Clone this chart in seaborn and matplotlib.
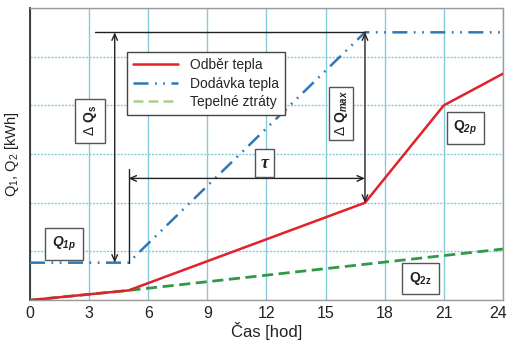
import matplotlib
matplotlib.use("Agg")
import matplotlib.pyplot as plt
import matplotlib.transforms as mtransforms
import seaborn as sns
from matplotlib.lines import Line2D

# Heat balance over one day
demand_hours = [0, 5, 17, 21, 24]
demand_kwh = [0.0, 0.2, 2.0, 4.0, 4.65]          # Odběr tepla (Q2)

supply_hours = [0, 5, 17, 24]
supply_kwh = [0.77, 0.77, 5.5, 5.5]               # Dodávka tepla (Q1)

loss_hours = [0, 5, 24]
loss_kwh = [0.0, 0.2, 1.05]                       # Tepelné ztráty

x_ticks = [0, 3, 6, 9, 12, 15, 18, 21, 24]
series_labels = ["Odběr tepla", "Dodávka tepla", "Tepelné ztráty"]

sns.set_style("white")
fam = ["Liberation Sans Narrow", "Liberation Sans", "DejaVu Sans"]
plt.rcParams["font.family"] = fam
plt.rcParams["mathtext.fontset"] = "custom"
plt.rcParams["mathtext.rm"] = "Liberation Sans"
plt.rcParams["mathtext.it"] = "Liberation Sans:italic"
plt.rcParams["mathtext.bf"] = "Liberation Sans:bold"
plt.rcParams["mathtext.bfit"] = "Liberation Sans:bold:italic"

RED = "#e0222a"
BLUE = "#2f78b4"
GREEN = "#2e9a48"
GREEN_LEG = "#a9d08e"
GRID = "#86cbdc"
INK = "#222222"

fig = plt.figure(figsize=(5.08, 3.47), dpi=100)
ax = fig.add_axes([0.059, 0.135, 0.931, 0.842])

sns.lineplot(x=loss_hours, y=loss_kwh, ax=ax, color=GREEN, lw=2.0,
             linestyle=(0, (4, 2)), zorder=3)
sns.lineplot(x=supply_hours, y=supply_kwh, ax=ax, color=BLUE, lw=1.8,
             linestyle=(0, (6, 2.6, 0.7, 2.6, 0.7, 2.6)), zorder=3)
sns.lineplot(x=demand_hours, y=demand_kwh, ax=ax, color=RED, lw=1.8, zorder=4)

ax.set_xlim(0, 24)
ax.set_ylim(0, 6)
ax.set_xticks(x_ticks)
ax.set_yticks(range(0, 7))
ax.set_yticklabels([])
ax.tick_params(axis="x", length=0, pad=4, labelsize=11.5, colors=INK)
ax.tick_params(axis="y", length=0)
ax.xaxis.grid(True, color=GRID, lw=1.0, ls="-")
ax.yaxis.grid(True, color=GRID, lw=1.0, ls=(0, (1.5, 1)))
ax.set_axisbelow(True)
for side, sp in ax.spines.items():
    sp.set_color("#9a9a9a")
    sp.set_linewidth(1.0)
ax.spines["left"].set_color("#333333")
ax.spines["left"].set_linewidth(1.3)

# keep the last hour label inside the canvas
last = ax.get_xticklabels()[-1]
last.set_transform(last.get_transform() +
                   mtransforms.ScaledTranslation(-5 / 100, 0, fig.dpi_scale_trans))

ax.set_xlabel("Čas [hod]", fontsize=12, color=INK, labelpad=1)
ax.set_ylabel(r"$\mathregular{Q_{1}}$, $\mathregular{Q_{2}}$ [kWh]", fontsize=10.5,
              color=INK, labelpad=3)

# Derived reference levels
q_base = supply_kwh[0]
q_top = max(supply_kwh)
t_start = supply_hours[1]
t_end = supply_hours[2]
q_knee = demand_kwh[demand_hours.index(t_end)]

arrow_kw = dict(arrowstyle="<->,head_length=0.45,head_width=0.2", color=INK,
                lw=1.0, shrinkA=0, shrinkB=0)
line_kw = dict(color=INK, lw=1.0, zorder=5)

# top reference line at maximum supply
ax.plot([3.3, t_end], [q_top, q_top], **line_kw)
# helper line at start of charging
ax.plot([t_start, t_start], [q_base, 2.7], **line_kw)
# ΔQs
ax.annotate("", xy=(4.3, q_top), xytext=(4.3, q_base), arrowprops=arrow_kw, zorder=5)
# τ
ax.annotate("", xy=(t_start, 2.5), xytext=(t_end, 2.5), arrowprops=arrow_kw, zorder=5)
# ΔQmax
ax.annotate("", xy=(t_end, q_top), xytext=(t_end, q_knee), arrowprops=arrow_kw, zorder=5)


def tag(x, y, s, rot=0, pad=0.5, size=10, **kw):
    b = dict(boxstyle=f"square,pad={pad}", fc="white", ec="#555555", lw=1.0)
    ax.text(x, y, s, rotation=rot, ha="center", va="center", fontsize=size,
            color=INK, bbox=b, zorder=6, **kw)


tag(3.05, 3.68, r"Δ $\mathbf{Q}_{\mathbf{s}}$", rot=90, pad=0.45, size=10)
tag(15.8, 3.84, r"Δ $\mathbf{Q}_{\mathbfit{max}}$", rot=90, pad=0.25, size=10)
tag(1.73, 1.15, r"$\mathbfit{Q}_{\mathbfit{1p}}$", pad=0.5)
tag(22.1, 3.53, r"$\mathbf{Q}_{\mathbfit{2p}}$", pad=0.5)
tag(19.8, 0.45, r"$\mathbf{Q}_{\mathbf{2z}}$", pad=0.5)
tag(11.9, 2.81, "τ", pad=0.3, size=13, family=["Liberation Serif", "DejaVu Serif"],
    fontstyle="italic", fontweight="bold")

handles = [
    Line2D([], [], color=RED, lw=1.8),
    Line2D([], [], color=BLUE, lw=1.8, ls=(0, (6, 2.6, 0.7, 2.6, 0.7, 2.6))),
    Line2D([], [], color=GREEN_LEG, lw=1.8, ls=(0, (4, 2))),
]
leg = ax.legend(handles, series_labels, loc="upper left",
                bbox_to_anchor=(0.205, 0.849), borderaxespad=0, fontsize=10,
                frameon=True, fancybox=False, framealpha=1, edgecolor="#444444",
                handlelength=3.2, handletextpad=0.9, labelspacing=0.3,
                borderpad=0.45)
leg.get_frame().set_linewidth(1.0)
leg.set_zorder(7)

fig.savefig("out.png", dpi=100)
